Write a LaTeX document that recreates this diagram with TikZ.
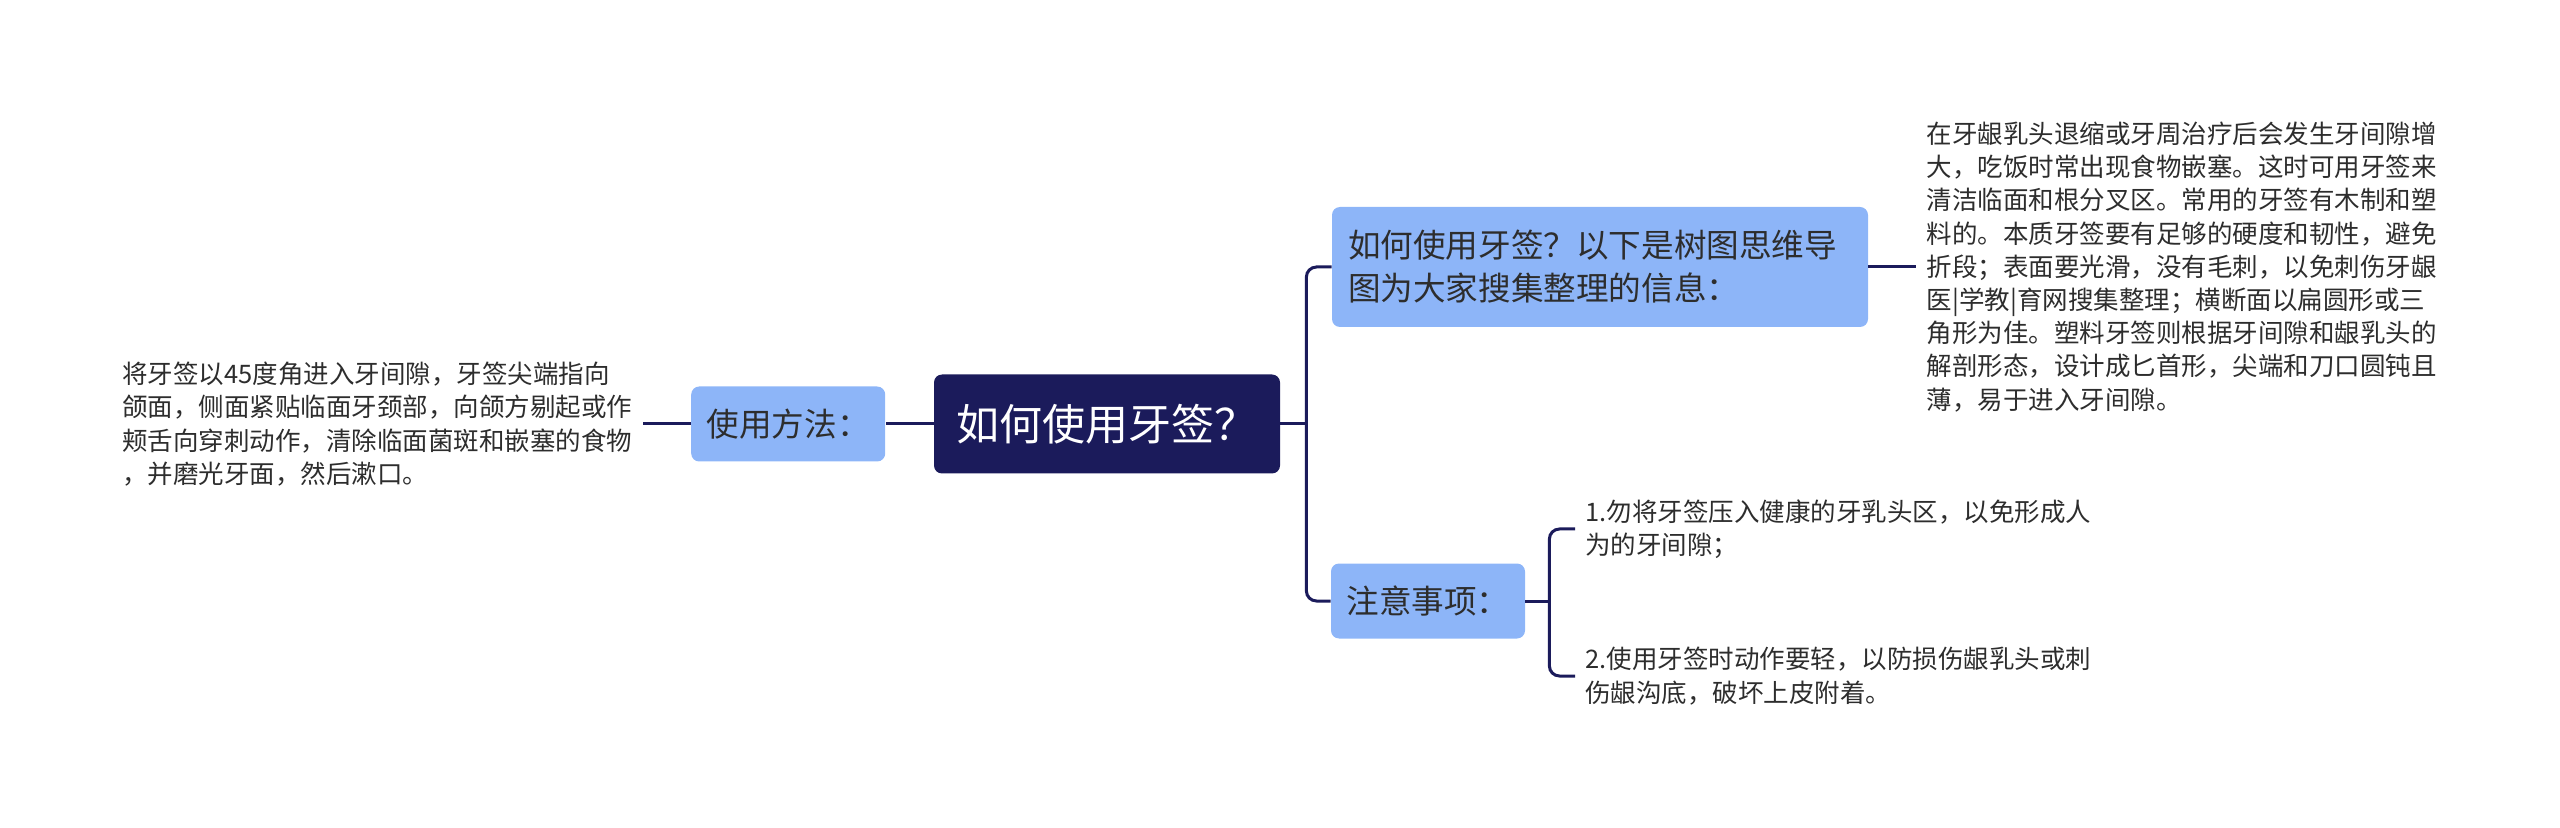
\documentclass[tikz,border=0pt]{standalone}
\usepackage{fontspec}
\setmainfont{Noto Sans CJK SC}
\usepackage{xcolor}
\usepackage{tikz}
\usetikzlibrary{positioning}
\definecolor{navy}{RGB}{27,27,91}
\definecolor{boxblue}{RGB}{141,181,248}
\definecolor{inkgray}{RGB}{45,45,45}
\tikzset{
  link/.style={draw=navy, line width=1.5pt},
  branch/.style={fill=boxblue, rounded corners=4pt, text=inkgray, font=\fontsize{16.3}{21.5}\selectfont, align=left},
  leaf/.style={text=inkgray, font=\fontsize{12.75}{16.6}\selectfont, align=left, inner sep=5pt},
}

\begin{document}
\begin{tikzpicture}[x=0.5pt, y=-0.5pt]
    \useasboundingbox (0,0) rectangle (2560,828);
    \node (root) [fill=navy, rounded corners=4pt, text=white, font=\fontsize{21.5}{25}\selectfont, minimum width=173pt, minimum height=49.5pt] at (1107,424) {如何使用牙签？};
    \node (usage) [branch, left=24pt of root, minimum width=97pt, minimum height=37.5pt] {使用方法：};
    \node (usagetext) [leaf, left=24pt of usage] {将牙签以45度角进入牙间隙，牙签尖端指向\\颌面，侧面紧贴临面牙颈部，向颌方剔起或作\\颊舌向穿刺动作，清除临面菌斑和嵌塞的食物\\，并磨光牙面，然后漱口。};
    \node (info) [branch, text width=252pt, inner xsep=8pt, minimum height=60pt] at (1600,267) {如何使用牙签？以下是树图思维导\\图为大家搜集整理的信息：};
    \node (infotext) [leaf, right=24pt of info] {在牙龈乳头退缩或牙周治疗后会发生牙间隙增\\大，吃饭时常出现食物嵌塞。这时可用牙签来\\清洁临面和根分叉区。常用的牙签有木制和塑\\料的。本质牙签要有足够的硬度和韧性，避免\\折段；表面要光滑，没有毛刺，以免刺伤牙龈\\医|学教|育网搜集整理；横断面以扁圆形或三\\角形为佳。塑料牙签则根据牙间隙和龈乳头的\\解剖形态，设计成匕首形，尖端和刀口圆钝且\\薄，易于进入牙间隙。};
    \node (notes) [branch, minimum width=97pt, minimum height=37.5pt] at (1428,601) {注意事项：};
    \node (noteone) [leaf, anchor=west] at (1575,529) {1.勿将牙签压入健康的牙乳头区，以免形成人\\为的牙间隙；};
    \node (notetwo) [leaf, anchor=west] at (1575,676) {2.使用牙签时动作要轻，以防损伤龈乳头或刺\\伤龈沟底，破坏上皮附着。};

    \coordinate (rootfork) at ([xshift=13pt]root.east);
    \coordinate (notefork) at ([xshift=12pt]notes.east);

    \draw[link] (root) -- (usage);
    \draw[link] (usage) -- (usagetext);
    \draw[link] (root) -- (rootfork);
    \draw[link, rounded corners=5pt] (rootfork) |- (info.west);
    \draw[link, rounded corners=5pt] (rootfork) |- (notes.west);
    \draw[link] (info) -- (infotext);
    \draw[link] (notes) -- (notefork);
    \draw[link, rounded corners=5pt] (notefork) |- (noteone.west);
    \draw[link, rounded corners=5pt] (notefork) |- (notetwo.west);
\end{tikzpicture}
\end{document}
